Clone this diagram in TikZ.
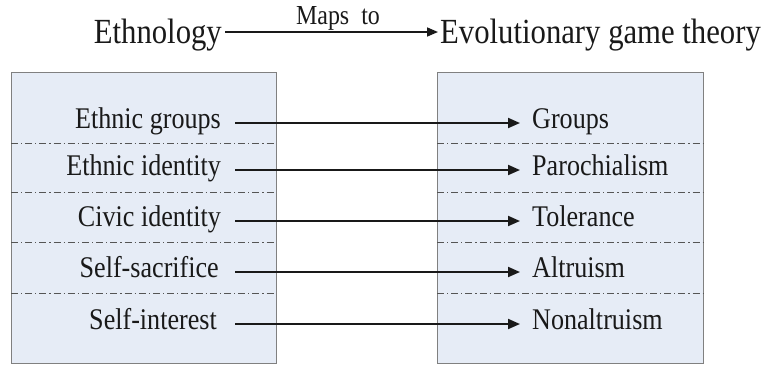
\documentclass[tikz,border=0pt]{standalone}
\usepackage{fontspec}
\newfontfamily\tnr[FakeStretch=0.87]{Liberation Serif}
\usetikzlibrary{arrows.meta,calc}
\definecolor{boxfill}{HTML}{E6ECF6}
\definecolor{boxline}{HTML}{808080}
\definecolor{sepline}{HTML}{555555}
\tikzset{
  panel/.style={draw=boxline,fill=boxfill,line width=1pt},
  sep/.style={draw=sepline,line width=0.8pt,dash pattern=on 7pt off 3pt on 1.2pt off 3pt},
  itemtxt/.style={inner sep=0pt,font=\tnr\fontsize{30}{36}\selectfont,text=black!90},
  titletxt/.style={inner sep=0pt,font=\tnr\fontsize{35.3}{42}\selectfont,text=black!90},
  maplbl/.style={inner sep=0pt,font=\tnr\fontsize{27.5}{32}\selectfont,text=black!90},
  maparrow/.style={draw=black!90,line width=2pt,-{Triangle[length=12pt,width=10pt]}},
  toparrow/.style={draw=black!90,line width=1.6pt,-{Triangle[length=11pt,width=9pt]}}
}
\begin{document}
\begin{tikzpicture}[x=1pt,y=-1pt]
\useasboundingbox (0,0) rectangle (765,365);
% panels
\path[panel] (11,72) rectangle (276,363);
\path[panel] (437,72) rectangle (703,363);
% separators
\foreach \yy in {143,192,242,293}{
  \path[sep] (11,\yy) -- (276,\yy);
  \path[sep] (437,\yy) -- (703,\yy);
}
% title
\node[titletxt,anchor=base east] (eth) at (222,43) {Ethnology};
\node[titletxt,anchor=base west] (egt) at (440,43) {Evolutionary game theory};
\coordinate (ts) at ($(eth.base east)+(3,-11)$);
\coordinate (te) at ($(egt.base west)+(-2,-11)$);
\path[toparrow] (ts) -- (te);
\node[maplbl,anchor=base] (maps) at (338,24) {Maps\ \ to};
% items
\node[itemtxt,anchor=base east] (l1) at (221,128) {Ethnic groups};
\node[itemtxt,anchor=base east] (l2) at (221,175) {Ethnic identity};
\node[itemtxt,anchor=base east] (l3) at (221,226) {Civic identity};
\node[itemtxt,anchor=base east] (l4) at (219,277) {Self-sacrifice};
\node[itemtxt,anchor=base east] (l5) at (217,329) {Self-interest};
\node[itemtxt,anchor=base west] (r1) at (532,128) {Groups};
\node[itemtxt,anchor=base west] (r2) at (532,175) {Parochialism};
\node[itemtxt,anchor=base west] (r3) at (532,226) {Tolerance};
\node[itemtxt,anchor=base west] (r4) at (532,277) {Altruism};
\node[itemtxt,anchor=base west] (r5) at (532,329) {Nonaltruism};
\foreach \i in {1,...,5}{
  \path[maparrow] (l\i.base east -| 235,0) ++(0,-5) -- ($(r\i.base west)+(-12,-5)$);
}
\end{tikzpicture}
\end{document}
